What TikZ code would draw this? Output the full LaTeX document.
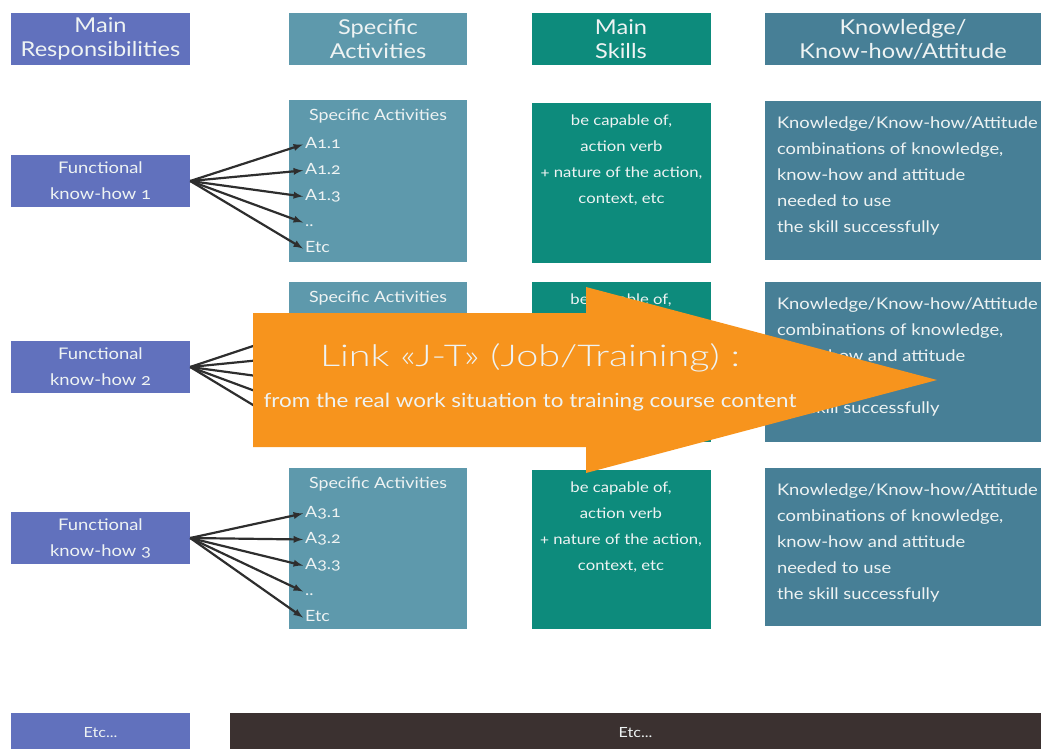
\documentclass[tikz,border=0pt]{standalone}
\usepackage{fontspec}
\setmainfont{Lato}[Numbers=OldStyle, FakeStretch=1.15]
\newfontfamily\lightfont{Lato Light}[FakeStretch=1.32]
\usepackage{tikz}
\usetikzlibrary{arrows,positioning}

\definecolor{respblue}{HTML}{6171BD}
\definecolor{actblue}{HTML}{5E99AC}
\definecolor{skillgreen}{HTML}{0D8B7C}
\definecolor{knowblue}{HTML}{477F96}
\definecolor{linkorange}{HTML}{F7941D}
\definecolor{etcdark}{HTML}{3B3130}
\definecolor{boxtext}{HTML}{EEF3F3}
\definecolor{wiregray}{HTML}{2E2E2E}

\newcommand\hdrfont{\fontsize{20.5}{24}\selectfont}
\newcommand\inbox{\fontsize{15.5}{26}\selectfont}

\begin{document}
\begin{tikzpicture}[x=1pt, y=-1pt,
  box/.style = {shape=rectangle, inner sep=0pt, text=boxtext, align=center},
  resp/.style = {box, fill=respblue, minimum width=179pt, minimum height=52pt},
  acts/.style = {box, fill=actblue, minimum width=178pt},
  skill/.style = {box, fill=skillgreen, minimum width=179pt},
  know/.style = {box, fill=knowblue, minimum width=276pt},
  txt/.style = {inner sep=0pt, text=boxtext, font=\inbox},
  item/.style = {txt, anchor=base west, inner xsep=2pt, text height=10pt, text depth=3pt},
  wire/.style = {draw=wiregray, line width=2.2pt, -latex}]
  \useasboundingbox (0,0) rectangle (1041,749);

  % column heads
  \node[resp, font=\hdrfont] (hresp) at (100.5,39) {Main\\Responsibilities};
  \node[acts, minimum height=52pt, font=\hdrfont] (hacts) at (378,39) {Specific\\Activities};
  \node[skill, minimum height=52pt, font=\hdrfont] (hskill) at (621,39) {Main\\Skills};
  \node[know, minimum height=52pt, font=\hdrfont] (hknow) at (903,39) {Knowledge/\\Know-how/Attitude};

  % know-how boxes
  \node[resp, font=\fontsize{16}{26}\selectfont] (fkh1) at (100.5,181) {Functional\\know-how 1};
  \node[resp, font=\fontsize{16}{26}\selectfont] (fkh2) at (100.5,367) {Functional\\know-how 2};
  \node[resp, font=\fontsize{16}{26}\selectfont] (fkh3) at (100.5,538) {Functional\\know-how 3};

  % activity boxes
  \node[acts, minimum height=162pt] (sa1) at (378,181) {};
  \node[acts, minimum height=160pt] (sa2) at (378,362) {};
  \node[acts, minimum height=161pt] (sa3) at (378,548.5) {};
  \foreach \s in {1,2,3}
    \node[txt, below=9pt of sa\s.north] (sah\s) {Specific Activities};

  % skill boxes
  \node[skill, minimum height=160pt] (sk1) at (621.5,183) {};
  \node[skill, minimum height=160pt] (sk2) at (621,362) {};
  \node[skill, minimum height=159pt] (sk3) at (621,549.5) {};
  \foreach \s in {1,2,3}
    \node[txt, align=center, font=\fontsize{14.5}{26}\selectfont, below=12pt of sk\s.north] (skt\s)
      {be capable of,\\action verb\\+ nature of the action,\\context, etc};

  % knowledge boxes
  \node[know, minimum height=159pt] (kn1) at (903,180.5) {};
  \node[know, minimum height=160pt] (kn2) at (903,362) {};
  \node[know, minimum height=158pt] (kn3) at (903,547) {};
  \foreach \s in {1,2,3}
    \node[txt, align=left, font=\fontsize{16}{26}\selectfont, below right=16pt and 12pt of kn\s.north west] (knt\s)
      {Knowledge/Know-how/Attitude\\combinations of knowledge,\\know-how and attitude\\needed to use\\the skill successfully};

  % activities and their links
  \foreach \lab [count=\k] in {A1.1,A1.2,A1.3,..,Etc} {
    \node[item] (a1\k) at (303,122+26*\k) {\lab};
    \draw[wire] (fkh1.east) -- (a1\k.west);
  }
  \foreach \k in {1,...,5} {
    \coordinate (a2\k) at (301,304+26*\k);
    \draw[wire] (fkh2.east) -- (a2\k);
  }
  \foreach \lab [count=\k] in {A3.1,A3.2,A3.3,..,Etc} {
    \node[item] (a3\k) at (303,491+26*\k) {\lab};
    \draw[wire] (fkh3.east) -- (a3\k.west);
  }

  % bottom row
  \node[resp, minimum height=40pt, font=\fontsize{14}{16}\selectfont] (etc1) at (100.5,733) {Etc...};
  \node[box, fill=etcdark, minimum width=811pt, minimum height=40pt, font=\fontsize{14}{16}\selectfont] (etc2) at (635.5,733) {Etc...};

  % the big arrow
  \fill[linkorange] (253,313) -- (586,313) -- (586,287) -- (937,380) -- (586,473) -- (586,447) -- (253,447) -- cycle;
  \node[txt, font=\lightfont\fontsize{30}{32}\selectfont] (jt) at (530,358) {Link «J-T» (Job/Training) :};
  \node[txt, font=\fontsize{19.5}{22}\selectfont] (jtsub) at (530,402) {from the real work situation to training course content};
\end{tikzpicture}
\end{document}
